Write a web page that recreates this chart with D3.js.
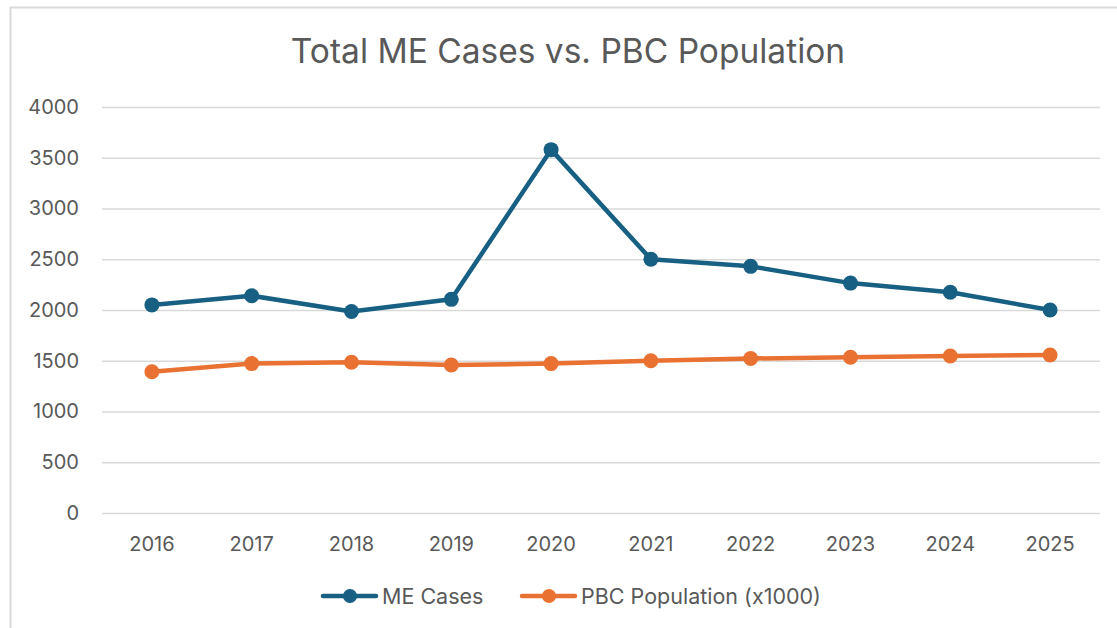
<!doctype html>
<html>
<head>
<meta charset="UTF-8">
<title>Total ME Cases vs. PBC Population</title>
<script type="text/javascript" src="https://cdnjs.cloudflare.com/ajax/libs/d3/7.8.5/d3.min.js"></script>
<style>
	html, body { margin: 0; padding: 0; background: #fff; }
	svg { display: block; font-family: Inter, "Liberation Sans", Arial, sans-serif; }
</style>
</head>
<body>
<svg id="chart"></svg>
<script type="text/javascript">
(function(){
	'use strict'

	// chart data
	const years = ['2016', '2017', '2018', '2019', '2020', '2021', '2022', '2023', '2024', '2025'];
	const meCases = [2050, 2140, 1985, 2105, 3580, 2500, 2430, 2265, 2175, 2000];
	const pbcPopulation = [1392, 1472, 1485, 1458, 1472, 1500, 1522, 1534, 1547, 1557];
	const yTicks = [0, 500, 1000, 1500, 2000, 2500, 3000, 3500, 4000];
	const seriesNames = ['ME Cases', 'PBC Population (x1000)'];
	const seriesColors = ['#176083', '#E97132'];

	const width = 1117, height = 628;
	const margin = {top: 107, right: 17, bottom: 115, left: 102};
	const plotW = width - margin.left - margin.right;
	const plotH = height - margin.top - margin.bottom;
	const fontFam = 'Inter, "Liberation Sans", Arial, sans-serif';

	const svg = d3.select('#chart').attr('width', width).attr('height', height);

	// outer frame (only top and left edges show in the picture)
	svg.append('path')
		.attr('d', 'M10.5,' + height + 'V7.5H' + width)
		.attr('fill', 'none')
		.attr('stroke', '#d9d9d9')
		.attr('stroke-width', 2);

	svg.append('text')
		.attr('x', 568)
		.attr('y', 63)
		.attr('text-anchor', 'middle')
		.attr('fill', '#595959')
		.attr('font-size', '33.5px')
		.text('Total ME Cases vs. PBC Population');

	const g = svg.append('g')
		.attr('transform', 'translate(' + margin.left + ',' + margin.top + ')');

	const x = d3.scaleBand().domain(years).range([0, plotW]);
	const y = d3.scaleLinear().domain([0, 4000]).range([plotH, 0]);

	// gridlines
	g.append('g')
		.call(d3.axisLeft(y).tickValues(yTicks).tickSize(-plotW).tickFormat(''))
		.call(function(a){ a.select('.domain').remove(); })
		.selectAll('line')
		.attr('stroke', '#d9d9d9')
		.attr('stroke-width', 1.5);

	// y labels
	g.append('g')
		.call(d3.axisLeft(y).tickValues(yTicks).tickSize(0).tickPadding(23).tickFormat(d3.format('d')))
		.call(function(a){ a.select('.domain').remove(); })
		.selectAll('text')
		.attr('fill', '#595959')
		.attr('font-size', '20px')
		.attr('font-family', fontFam);

	// x labels
	g.append('g')
		.attr('transform', 'translate(0,' + plotH + ')')
		.call(d3.axisBottom(x).tickSize(0).tickPadding(24))
		.call(function(a){ a.select('.domain').remove(); })
		.selectAll('text')
		.attr('fill', '#595959')
		.attr('font-size', '20px')
		.attr('font-family', fontFam);

	const cx = function(d, i){ return x(years[i]) + x.bandwidth() / 2; };
	const line = d3.line()
		.x(function(d, i){ return cx(d, i); })
		.y(function(d){ return y(d); });

	// draw orange first, blue on top
	[pbcPopulation, meCases].forEach(function(series, k){
		const color = seriesColors[1 - k];
		g.append('path')
			.datum(series)
			.attr('fill', 'none')
			.attr('stroke', color)
			.attr('stroke-width', 4.5)
			.attr('stroke-linejoin', 'round')
			.attr('d', line);
		g.selectAll(null)
			.data(series)
			.enter().append('circle')
			.attr('cx', cx)
			.attr('cy', function(d){ return y(d); })
			.attr('r', 7.5)
			.attr('fill', color);
	});

	// legend
	const legend = svg.append('g').attr('transform', 'translate(0,596)');
	const legendX = [323, 522];
	seriesNames.forEach(function(name, i){
		const lg = legend.append('g').attr('transform', 'translate(' + legendX[i] + ',0)');
		lg.append('line')
			.attr('x1', 0).attr('x2', 53).attr('y1', 0).attr('y2', 0)
			.attr('stroke', seriesColors[i])
			.attr('stroke-width', 4.5)
			.attr('stroke-linecap', 'round');
		lg.append('circle')
			.attr('cx', 27).attr('cy', 0).attr('r', 7)
			.attr('fill', seriesColors[i]);
		lg.append('text')
			.attr('x', 59)
			.attr('y', 7.5)
			.attr('fill', '#595959')
			.attr('font-size', '21.5px')
			.text(name);
	});
})();
</script>
</body>
</html>
